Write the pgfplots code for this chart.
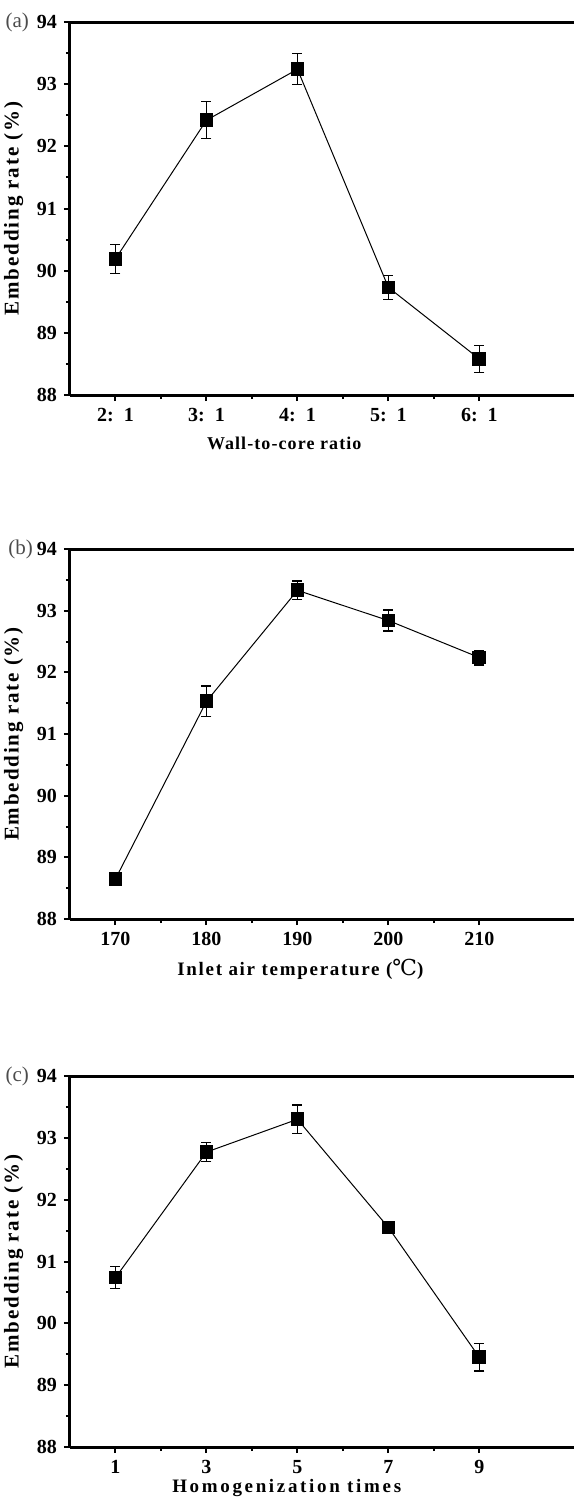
\documentclass[border=0pt]{standalone}
\usepackage{fontspec}
\setmainfont{Liberation Serif}
\newfontfamily\degfont{DejaVu Serif}
\usepackage{pgfplots}
\pgfplotsset{compat=1.18}

\pgfplotsset{
  panel/.style={
    scale only axis, width=252pt,
    axis x line*=box, axis y line*=left,
    xtick pos=left, ytick pos=left,
    axis line style={line width=1.5pt},
    tick align=outside,
    major tick length=3pt, minor tick length=2pt,
    every tick/.style={line width=1pt, black},
    minor x tick num=1, minor y tick num=1,
    ymin=88, ymax=94, ytick={88,89,...,94},
    tick label style={font=\bfseries\fontsize{10}{11}\selectfont},
    /pgf/number format/assume math mode=true,
    /pgf/number format/set thousands separator={},
    ylabel={Embedding rate (\%)},
    label style={font=\bfseries\fontsize{9.5}{11}\selectfont\addfontfeature{LetterSpace=9}},
    ylabel style={font=\bfseries\fontsize{10.5}{12}\selectfont\addfontfeature{LetterSpace=9}},
    ylabel shift=0pt,
    clip=false,
  },
  pts/.style={black, line width=0.5pt, mark=square*, mark size=3.2pt,
    mark options={solid, fill=black},
    error bars/.cd, y dir=both, y explicit,
    error bar style={line width=0.6pt, black},
    error mark options={rotate=90, mark size=2.5pt, line width=0.6pt, black}},
}
\tikzset{tag/.style={anchor=east, text=black!70, font=\fontsize{10.5}{12}\selectfont}}

\begin{document}
\begin{tikzpicture}
\useasboundingbox (0,0) rectangle (288.5pt,-749.5pt);

% (a)
\begin{axis}[panel, at={(35pt,-197.5pt)}, anchor=south west, height=186.5pt,
  xmin=0.5, xmax=6.04, xtick={1,2,3,4,5},
  xticklabels={2:\ \ 1, 3:\ \ 1, 4:\ \ 1, 5:\ \ 1, 6:\ \ 1},
  xlabel={Wall-to-core ratio},
  xlabel style={at={(rel axis cs:0.425,0)}, anchor=center, yshift=-24pt,
    font=\bfseries\fontsize{9}{11}\selectfont\addfontfeature{LetterSpace=6}}]
\addplot[pts] table[x=x, y=y, y error=e] {
x y e
1 90.19 0.23
2 92.42 0.30
3 93.24 0.25
4 89.73 0.19
5 88.58 0.22
};
\node[tag] at (rel axis cs:0,1) [xshift=-17pt] {(a)};
\end{axis}

% (b)
\begin{axis}[panel, at={(35pt,-459.5pt)}, anchor=south west, height=185pt,
  xmin=165, xmax=220.4, xtick={170,180,...,210},
  xlabel={Inlet air temperature ({\mdseries\degfont\addfontfeature{LetterSpace=0}\fontsize{11}{12}\selectfont ℃})},
  xlabel style={at={(rel axis cs:0.457,0)}, anchor=center, yshift=-25pt}]
\addplot[pts] table[x=x, y=y, y error=e] {
x y e
170 88.65 0.10
180 91.53 0.25
190 93.33 0.15
200 92.84 0.17
210 92.24 0.12
};
\node[tag] at (rel axis cs:0,1) [xshift=-15pt] {(b)};
\end{axis}

% (c)
\begin{axis}[panel, at={(35pt,-723.5pt)}, anchor=south west, height=185.5pt,
  xmin=0, xmax=11.08, xtick={1,3,5,7,9},
  xlabel={Homogenization times},
  xlabel style={at={(rel axis cs:0.43,0)}, anchor=center, yshift=-20.5pt,
    font=\bfseries\fontsize{9.5}{11}\selectfont\addfontfeature{LetterSpace=14}}]
\addplot[pts] table[x=x, y=y, y error=e] {
x y e
1 90.74 0.18
3 92.77 0.15
5 93.30 0.23
7 91.55 0.10
9 89.45 0.22
};
\node[tag] at (rel axis cs:0,1) [xshift=-17pt] {(c)};
\end{axis}
\end{tikzpicture}
\end{document}
